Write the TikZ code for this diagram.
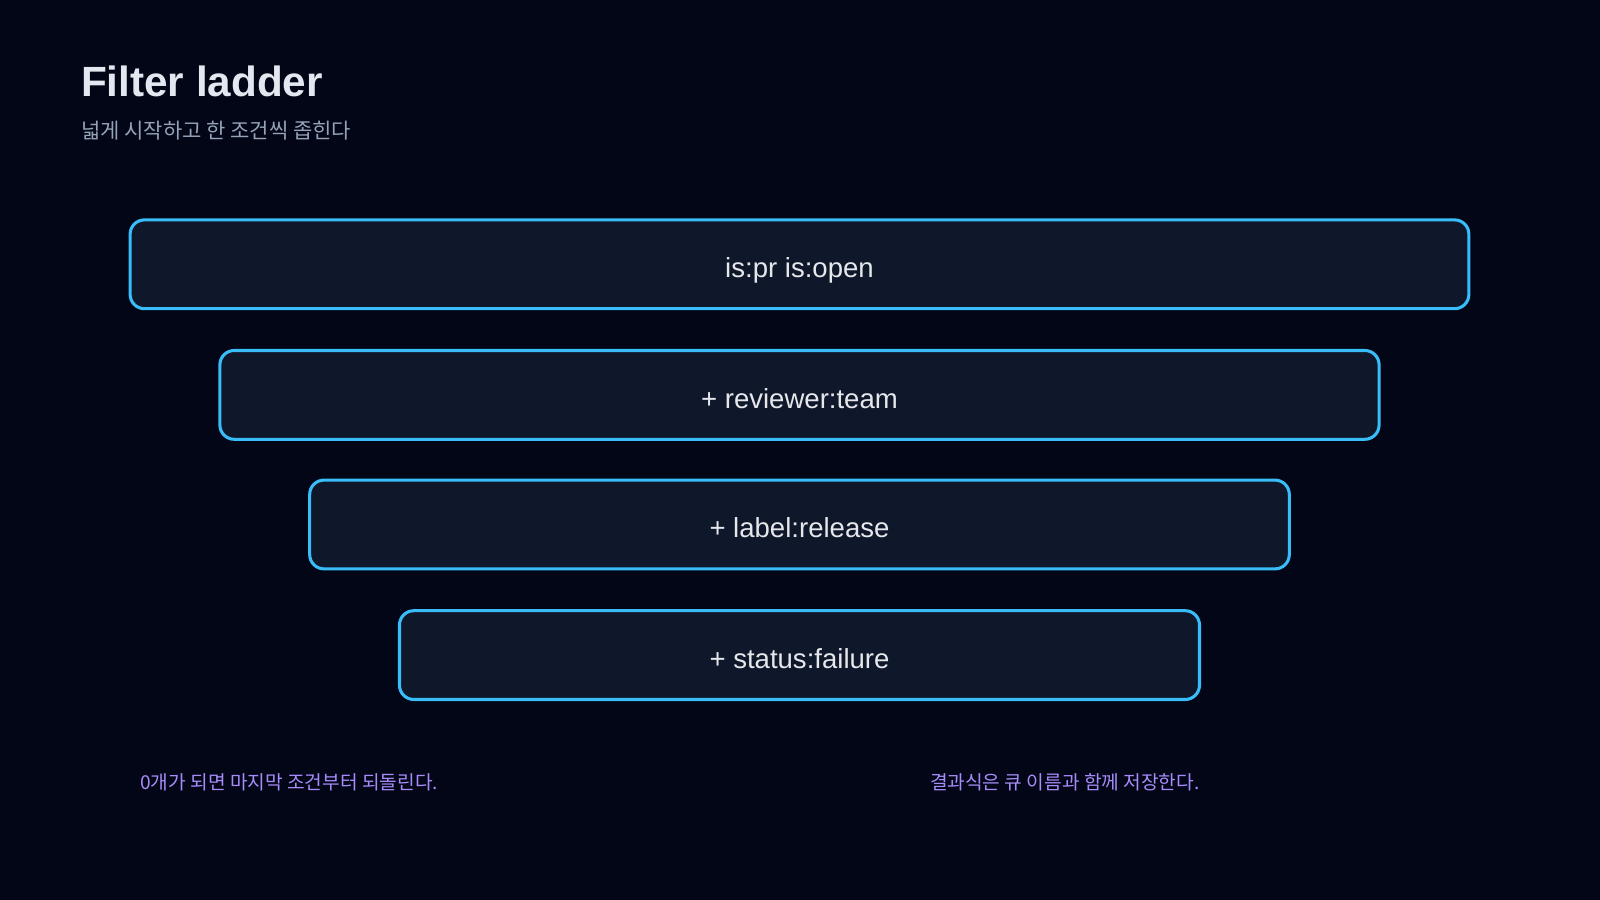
\documentclass[tikz,border=0pt]{standalone}
\usepackage{fontspec}
\setmainfont{Liberation Sans}
\newfontfamily\krfont{Noto Sans CJK KR}
\usepackage{xcolor}
\definecolor{bgnavy}{HTML}{020617}
\definecolor{rungfill}{HTML}{0F172A}
\definecolor{rungedge}{HTML}{38BDF8}
\definecolor{rungtext}{HTML}{E5E7EB}
\definecolor{titletext}{HTML}{E2E8F0}
\definecolor{subtext}{HTML}{94A3B8}
\definecolor{notepurple}{HTML}{A78BFA}

\begin{document}
\begin{tikzpicture}[
    x=0.5pt, y=-0.5pt,
    rung/.style={rectangle, draw=rungedge, fill=rungfill, line width=1.5pt, rounded corners=7pt,
        minimum height=43.5pt, inner sep=0pt, text height=13pt, text depth=0pt,
        text=rungtext, font=\fontsize{13.5}{16}\selectfont},
    note/.style={anchor=base west, inner sep=0pt, text=notepurple, font=\krfont\fontsize{9.4}{11}\selectfont}
]

\path[fill=bgnavy, use as bounding box] (0,0) rectangle (1568,882);

\node[anchor=base west, inner sep=0pt, text=titletext, font=\bfseries\fontsize{20.7}{24}\selectfont] (title) at (79,95) {Filter ladder};
\node[anchor=base west, inner sep=0pt, text=subtext, font=\krfont\fontsize{10.3}{12}\selectfont] (subtitle) at (79,136) {넓게 시작하고 한 조건씩 좁힌다};

\node[rung, minimum width=656pt] (base) at (783.5,259) {is:pr is:open};
\node[rung, minimum width=568pt] (reviewer) at (783.5,387) {+ reviewer:team};
\node[rung, minimum width=480pt] (label) at (783.5,514) {+ label:release};
\node[rung, minimum width=392pt] (status) at (783.5,642) {+ status:failure};

\node[note] (undo) at (137,774) {0개가 되면 마지막 조건부터 되돌린다.};
\node[note] (save) at (911,774) {결과식은 큐 이름과 함께 저장한다.};

\end{tikzpicture}
\end{document}
